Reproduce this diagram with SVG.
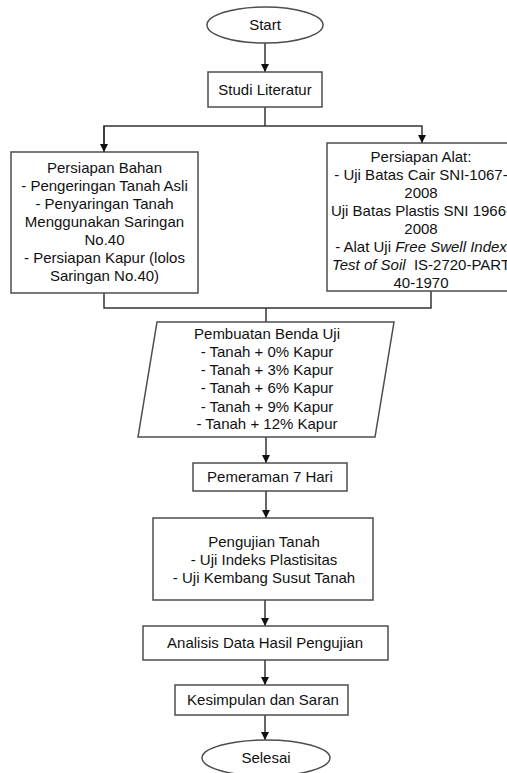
<svg xmlns="http://www.w3.org/2000/svg" width="507" height="773" viewBox="0 0 507 773">
<defs>
<style>
.box{fill:#fff;stroke:#4d4d4d;stroke-width:1.5}
.ln{fill:none;stroke:#333;stroke-width:1.5}
text{font-family:"Liberation Sans",Arial,sans-serif;font-size:15px;fill:#111;text-anchor:middle}
.it{font-style:italic}
</style>
<marker id="ah" viewBox="0 0 10 10" refX="10" refY="5" markerWidth="8" markerHeight="8" markerUnits="userSpaceOnUse" orient="auto">
<path d="M0,0 L10,5 L0,10 Z" fill="#111"/>
</marker>
</defs>
<rect width="507" height="773" fill="#fff"/>
<g id="connectors">
<line class="ln" x1="265" y1="43" x2="265" y2="72" marker-end="url(#ah)"/>
<polyline class="ln" points="265,107 265,126"/>
<polyline class="ln" points="104,152 104,126 422,126 422,143" marker-end="url(#ah)"/>
<line class="ln" x1="104" y1="126" x2="104" y2="152" marker-end="url(#ah)"/>
<polyline class="ln" points="104,293 104,308 431,308 431,291"/>
<line class="ln" x1="266" y1="308" x2="266" y2="322"/>
<line class="ln" x1="266" y1="437" x2="266" y2="463" marker-end="url(#ah)"/>
<line class="ln" x1="266" y1="491" x2="266" y2="518" marker-end="url(#ah)"/>
<line class="ln" x1="265" y1="600" x2="265" y2="626" marker-end="url(#ah)"/>
<line class="ln" x1="265" y1="660" x2="265" y2="685" marker-end="url(#ah)"/>
<line class="ln" x1="265" y1="715" x2="265" y2="740" marker-end="url(#ah)"/>
</g>
<g id="start">
<ellipse class="box" cx="265" cy="25" rx="58" ry="18"/>
<text x="265" y="30">Start</text>
</g>
<g id="studi">
<rect class="box" x="208" y="72" width="114" height="35"/>
<text x="265" y="95">Studi Literatur</text>
</g>
<g id="bahan">
<rect class="box" x="11" y="152" width="187" height="141"/>
<text x="104.5" y="173">Persiapan Bahan</text>
<text x="104.5" y="191">- Pengeringan Tanah Asli</text>
<text x="104.5" y="209">- Penyaringan Tanah</text>
<text x="104.5" y="227">Menggunakan Saringan</text>
<text x="104.5" y="245">No.40</text>
<text x="104.5" y="263">- Persiapan Kapur (lolos</text>
<text x="104.5" y="281">Saringan No.40)</text>
</g>
<g id="alat">
<rect class="box" x="327" y="143" width="190" height="148"/>
<text x="421" y="162">Persiapan Alat:</text>
<text x="421" y="180">- Uji Batas Cair SNI-1067-</text>
<text x="421" y="198">2008</text>
<text x="421" y="216">Uji Batas Plastis SNI 1966-</text>
<text x="421" y="234">2008</text>
<text x="421" y="252">- Alat Uji <tspan class="it">Free Swell Index</tspan></text>
<text x="421" y="270" xml:space="preserve"><tspan class="it">Test of Soil</tspan>  IS-2720-PART</text>
<text x="421" y="288">40-1970</text>
</g>
<g id="benda">
<polygon class="box" points="157,322 394,322 375,437 138,437"/>
<text x="267" y="339">Pembuatan Benda Uji</text>
<text x="267" y="357">- Tanah + 0% Kapur</text>
<text x="267" y="375">- Tanah + 3% Kapur</text>
<text x="267" y="393">- Tanah + 6% Kapur</text>
<text x="267" y="412">- Tanah + 9% Kapur</text>
<text x="267" y="429">- Tanah + 12% Kapur</text>
</g>
<g id="pemeraman">
<rect class="box" x="193" y="463" width="154" height="28"/>
<text x="270" y="482">Pemeraman 7 Hari</text>
</g>
<g id="pengujian">
<rect class="box" x="153" y="518" width="220" height="82"/>
<text x="264" y="547">Pengujian Tanah</text>
<text x="264" y="565">- Uji Indeks Plastisitas</text>
<text x="264" y="583">- Uji Kembang Susut Tanah</text>
</g>
<g id="analisis">
<rect class="box" x="143" y="626" width="245" height="34"/>
<text x="265" y="648">Analisis Data Hasil Pengujian</text>
</g>
<g id="kesimpulan">
<rect class="box" x="175" y="685" width="173" height="30"/>
<text x="263" y="705">Kesimpulan dan Saran</text>
</g>
<g id="selesai">
<ellipse class="box" cx="266" cy="758" rx="64" ry="18"/>
<text x="266" y="763">Selesai</text>
</g>
</svg>
